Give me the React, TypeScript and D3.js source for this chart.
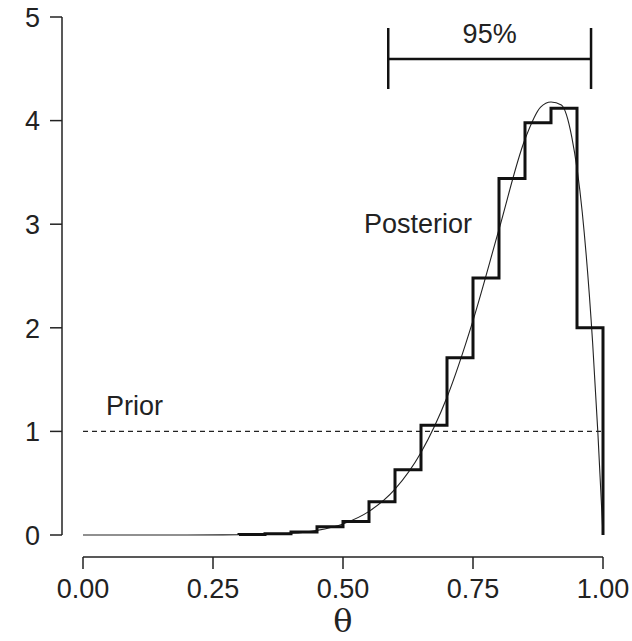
import React from "react";
import * as d3 from "d3";

// Posterior density curve
const curveTheta = [0, 0.2, 0.3, 0.4, 0.45, 0.5, 0.55, 0.6, 0.65, 0.7, 0.75, 0.8, 0.85, 0.88, 0.9, 0.92, 0.94, 0.96, 0.98, 0.99, 1.0];
const curveDensity = [0, 0, 0.002, 0.017, 0.045, 0.107, 0.228, 0.443, 0.797, 1.33, 2.07, 2.95, 3.82, 4.13, 4.18, 4.15, 3.84, 3.12, 1.86, 1.0, 0];

// Histogram of posterior samples (bins of width 0.05 starting at 0.30)
const binStarts = [0.3, 0.35, 0.4, 0.45, 0.5, 0.55, 0.6, 0.65, 0.7, 0.75, 0.8, 0.85, 0.9, 0.95];
const binHeights = [0.005, 0.012, 0.03, 0.08, 0.13, 0.32, 0.63, 1.06, 1.71, 2.48, 3.44, 3.98, 4.12, 2.0];
const binWidth = 0.05;

// Prior and interval
const priorDensity = 1;
const interval95 = [0.587, 0.977];

const xTicks = [0, 0.25, 0.5, 0.75, 1];
const xTickLabels = ["0.00", "0.25", "0.50", "0.75", "1.00"];
const yTicks = [0, 1, 2, 3, 4, 5];

export default function App() {
  const W = 632, H = 641;
  const x = d3.scaleLinear().domain([0, 1]).range([83, 603]);
  const y = d3.scaleLinear().domain([0, 5]).range([535, 17]);
  const font = "'Liberation Sans', Arial, Helvetica, sans-serif";
  const fs = 27;

  const curvePts: [number, number][] = curveTheta.map((t, i) => [t, curveDensity[i]]);
  const line = d3
    .line<[number, number]>()
    .x((d) => x(d[0]))
    .y((d) => y(d[1]))
    .curve(d3.curveMonotoneX);

  const path = d3.path();
  path.moveTo(x(binStarts[0]), y(0));
  binStarts.forEach((s, i) => {
    path.lineTo(x(s), y(binHeights[i]));
    path.lineTo(x(s + binWidth), y(binHeights[i]));
  });
  path.lineTo(x(1), y(0));

  const axisY = 557;
  const axisX = 62;

  return (
    <svg width={W} height={H} style={{ position: "absolute", left: 0, top: 0, background: "#fff" }}>
      {/* y axis */}
      <line x1={axisX} x2={axisX} y1={y(0)} y2={y(5)} stroke="#222" strokeWidth={1.5} />
      {yTicks.map((t) => (
        <g key={t}>
          <line x1={axisX - 12} x2={axisX} y1={y(t)} y2={y(t)} stroke="#222" strokeWidth={1.5} />
          <text x={40} y={y(t)} dy="0.36em" textAnchor="end" fontFamily={font} fontSize={fs} fill="#222">
            {t}
          </text>
        </g>
      ))}
      {/* x axis */}
      <line x1={x(0)} x2={x(1)} y1={axisY} y2={axisY} stroke="#222" strokeWidth={1.5} />
      {xTicks.map((t, i) => (
        <g key={t}>
          <line x1={x(t)} x2={x(t)} y1={axisY} y2={axisY + 12} stroke="#222" strokeWidth={1.5} />
          <text x={x(t)} y={598} textAnchor="middle" fontFamily={font} fontSize={fs} fill="#222">
            {xTickLabels[i]}
          </text>
        </g>
      ))}
      <text x={x(0.5)} y={632} textAnchor="middle" fontFamily="'DejaVu Serif', 'Liberation Serif', serif" fontSize={32} fill="#222">
        θ
      </text>

      {/* prior */}
      <line x1={x(0)} x2={x(1)} y1={y(priorDensity)} y2={y(priorDensity)} stroke="#222" strokeWidth={1.3} strokeDasharray="5,4" />
      <text x={106} y={415} fontFamily={font} fontSize={fs} fill="#222">Prior</text>

      {/* curve */}
      <path d={line(curvePts) || ""} fill="none" stroke="#222" strokeWidth={1.1} />
      {/* histogram */}
      <path d={path.toString()} fill="none" stroke="#111" strokeWidth={3} strokeLinejoin="miter" />
      <text x={364} y={233} fontFamily={font} fontSize={fs} fill="#222">Posterior</text>

      {/* 95% interval */}
      <line x1={x(interval95[0])} x2={x(interval95[1])} y1={59} y2={59} stroke="#111" strokeWidth={2.5} />
      <line x1={x(interval95[0])} x2={x(interval95[0])} y1={28} y2={89} stroke="#111" strokeWidth={2.5} />
      <line x1={x(interval95[1])} x2={x(interval95[1])} y1={28} y2={89} stroke="#111" strokeWidth={2.5} />
      <text x={(x(interval95[0]) + x(interval95[1])) / 2} y={43} textAnchor="middle" fontFamily={font} fontSize={fs} fill="#222">
        95%
      </text>
    </svg>
  );
}
